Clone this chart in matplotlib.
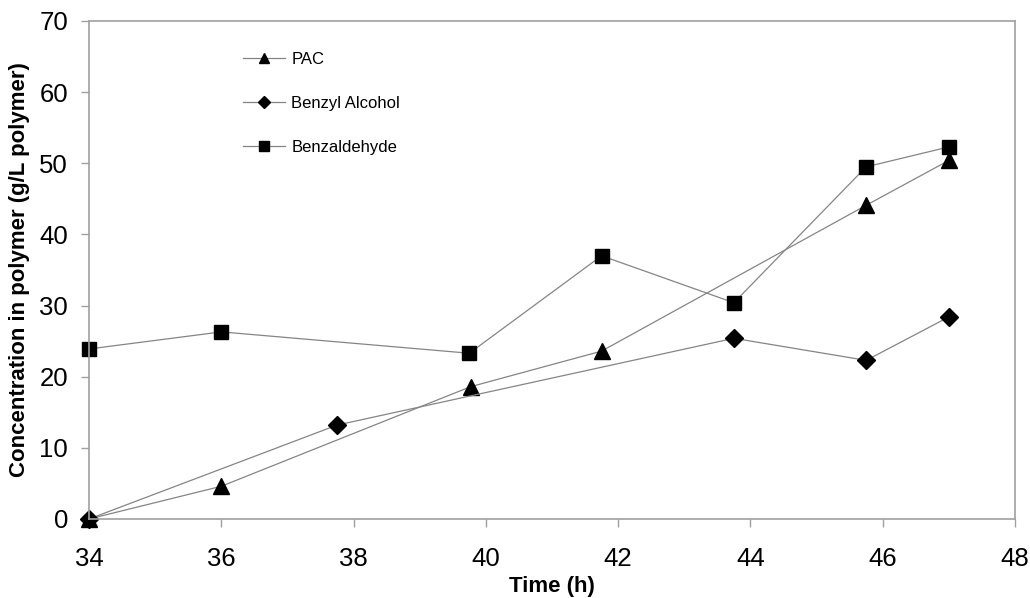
import numpy as np
import matplotlib.pyplot as plt

plt.rcParams['font.family'] = ['Liberation Sans', 'DejaVu Sans']

# sampling times (h) and concentrations (g/L polymer)
t_pac = [34, 36, 39.77, 41.75, 45.75, 47]
pac = [0, 4.6, 18.6, 23.6, 44.1, 50.4]

t_benzyl = [34, 37.75, 43.75, 45.75, 47]
benzyl = [0, 13.2, 25.4, 22.3, 28.4]

t_bald = [34, 36, 39.75, 41.75, 43.75, 45.75, 47]
bald = [23.9, 26.3, 23.3, 37.0, 30.4, 49.5, 52.3]

fig = plt.figure(figsize=(10.30, 5.98), dpi=100)
ax = fig.add_axes([89/1030, 1 - 519/598, (1015 - 89)/1030, (519 - 21)/598])

lc = '#858585'
ax.plot(t_pac, pac, color=lc, lw=0.9, marker='^', ms=12, mfc='k', mec='k', label='PAC', clip_on=False)
ax.plot(t_benzyl, benzyl, color=lc, lw=0.9, marker='D', ms=9, mfc='k', mec='k', label='Benzyl Alcohol', clip_on=False)
ax.plot(t_bald, bald, color=lc, lw=0.9, marker='s', ms=10, mfc='k', mec='k', label='Benzaldehyde', clip_on=False)

ax.set_xlim(34, 48)
ax.set_ylim(0, 70)
ax.set_xticks(np.arange(34, 49, 2))
ax.set_yticks(np.arange(0, 71, 10))
for s in ax.spines.values():
    s.set_color('#a0a0a0')
    s.set_linewidth(1.2)
ax.tick_params(direction='out', length=6, width=1, color='#a0a0a0', labelsize=18.5)
ax.tick_params(axis='x', pad=14)
ax.tick_params(axis='y', pad=9)

ax.set_xlabel('Time (h)', fontsize=16, fontweight='bold', labelpad=4)
ax.set_ylabel('Concentration in polymer (g/L polymer)', fontsize=16, fontweight='bold', labelpad=7)

leg = ax.legend(loc='upper left', bbox_to_anchor=(0.1663, 0.938), frameon=False, fontsize=12,
                borderpad=0, borderaxespad=0, handlelength=2.5, handletextpad=0.4,
                labelspacing=1.75, markerscale=0.65)

fig.savefig('out.png', dpi=100)
